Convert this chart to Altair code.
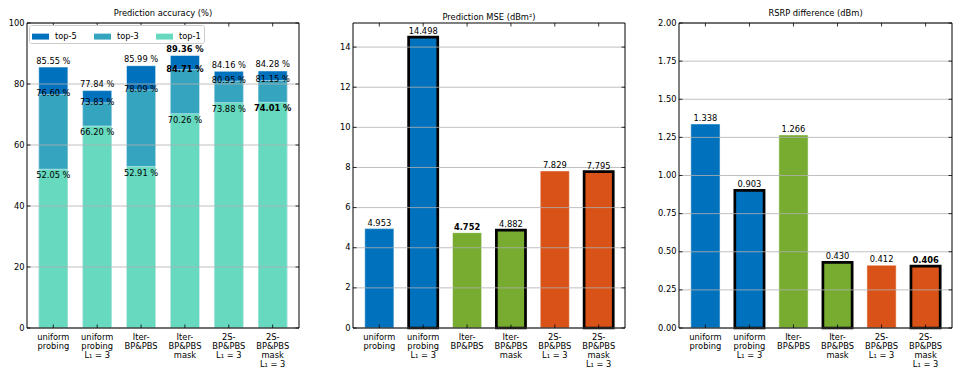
import altair as alt
import pandas as pd

# ---------------- data ----------------
methods = [
    "uniform\nprobing",
    "uniform\nprobing\nL₁ = 3",
    "Iter-\nBP&PBS",
    "Iter-\nBP&PBS\nmask",
    "2S-\nBP&PBS\nL₁ = 3",
    "2S-\nBP&PBS\nmask\nL₁ = 3",
]
top5 = [85.55, 77.84, 85.99, 89.36, 84.16, 84.28]
top3 = [76.60, 73.83, 78.09, 84.71, 80.95, 81.15]
top1 = [52.05, 66.20, 52.91, 70.26, 73.88, 74.01]
acc_kinds = ["top-5", "top-3", "top-1"]
acc_colors = ["#0072BD", "#35A4BF", "#66D9BF"]
acc_bold = [("top-5", 3), ("top-3", 3), ("top-1", 5)]
acc_ticks = [0, 20, 40, 60, 80, 100]

mse = [4.953, 14.498, 4.752, 4.882, 7.829, 7.795]
mse_bold = 2
mse_ticks = [0, 2, 4, 6, 8, 10, 12, 14]
rsrp = [1.338, 0.903, 1.266, 0.430, 0.412, 0.406]
rsrp_bold = 5
rsrp_ticks = [0, 0.25, 0.5, 0.75, 1.0, 1.25, 1.5, 1.75, 2.0]

groups = ["uniform", "uniform", "iter", "iter", "2s", "2s"]
group_domain = ["uniform", "iter", "2s"]
group_colors = ["#0072BD", "#77AC30", "#D95319"]
outlined = [False, True, False, True, False, True]

FONT = "DejaVu Sans"
FS = 8.3
H = 305
TICK = 3.5


def xenc():
    return alt.X(
        "method:N",
        sort=methods,
        scale=alt.Scale(domain=methods, paddingInner=0.336, paddingOuter=0.268),
        axis=alt.Axis(
            title=None, labelAngle=0, labelExpr="split(datum.label, '\\n')",
            ticks=False, domain=False, grid=False, labelFontSize=FS,
            labelPadding=4, labelLineHeight=9, labelBaseline="top",
            labelColor="black", labelOverlap=False,
        ),
    )


def make_yenc(domain, values, fmt):
    def yenc():
        return alt.Y(
            "value:Q", stack=None,
            scale=alt.Scale(domain=domain, nice=False, zero=True),
            axis=alt.Axis(
                title=None, values=values, format=fmt, grid=False,
                ticks=False, domain=False, labelOverlap=False,
                labelFontSize=FS, labelPadding=3, labelColor="black",
            ),
        )
    return yenc


def gridlines(tick_values, yenc):
    tdf = pd.DataFrame({"value": tick_values})
    return alt.Chart(tdf).mark_rule(color="#b0b0b0", strokeWidth=0.8).encode(y=yenc())


def decorations(W, tick_values, yenc):
    tdf = pd.DataFrame({"value": tick_values})
    mdf = pd.DataFrame({"method": methods})
    lt = alt.Chart(tdf).mark_rule(color="black", strokeWidth=0.8).encode(
        y=yenc(), x=alt.value(0), x2=alt.value(TICK))
    rt = alt.Chart(tdf).mark_rule(color="black", strokeWidth=0.8).encode(
        y=yenc(), x=alt.value(W - TICK), x2=alt.value(W))
    bt = alt.Chart(mdf).mark_rule(color="black", strokeWidth=0.8).encode(
        x=xenc(), y=alt.value(H), y2=alt.value(H - TICK))
    tt = alt.Chart(mdf).mark_rule(color="black", strokeWidth=0.8).encode(
        x=xenc(), y=alt.value(0), y2=alt.value(TICK))
    frame = alt.Chart(pd.DataFrame({"a": [0]})).mark_rect(
        fillOpacity=0, stroke="black", strokeWidth=1).encode(
        x=alt.value(0), x2=alt.value(W), y=alt.value(0), y2=alt.value(H))
    return [lt, rt, bt, tt, frame]


# ---------------- panel 1 ----------------
rows = []
for ordk, (kind, vals) in enumerate(zip(acc_kinds, [top5, top3, top1])):
    for i, m in enumerate(methods):
        rows.append(dict(method=m, kind=kind, value=vals[i], ord=ordk,
                         label=f"{vals[i]:.2f} %", bold=(kind, i) in acc_bold))
acc = pd.DataFrame(rows)
W1 = 272
y1 = make_yenc([0, 100], acc_ticks, "d")

bars1 = alt.Chart(acc).mark_bar(stroke="white", strokeWidth=0.5).encode(
    x=xenc(), y=y1(),
    color=alt.Color("kind:N", scale=alt.Scale(domain=acc_kinds, range=acc_colors),
                    legend=alt.Legend(
                        orient="none", legendX=2, legendY=2, direction="horizontal",
                        title=None, symbolType="M-1,-0.35H1V0.35H-1Z", symbolSize=289,
                        symbolStrokeWidth=0, symbolOpacity=1, labelFontSize=FS,
                        labelOffset=6, columnPadding=17, padding=3,
                        strokeColor="#cccccc", fillColor="white", cornerRadius=2,
                        labelColor="black")),
    order=alt.Order("ord:Q"),
)

text_layers1 = []
for kind, base, dy in [("top-5", "bottom", -1.5), ("top-3", "middle", 0), ("top-1", "top", 2)]:
    for b in [False, True]:
        sub = acc[(acc["kind"] == kind) & (acc["bold"] == b)]
        if len(sub) == 0:
            continue
        text_layers1.append(
            alt.Chart(sub).mark_text(baseline=base, dy=dy, fontSize=FS, color="black",
                                     fontWeight="bold" if b else "normal").encode(
                x=xenc(), y=y1(), text="label:N"))

p1 = alt.layer(bars1, gridlines(acc_ticks, y1), *text_layers1,
               *decorations(W1, acc_ticks, y1)).properties(
    width=W1, height=H, title="Prediction accuracy (%)")


# ---------------- panels 2 & 3 ----------------
def simple_panel(vals, bold_idx, fmt, domain, ticks, tfmt, W, title):
    df = pd.DataFrame(dict(method=methods, value=vals, group=groups, outlined=outlined,
                           label=[format(v, fmt) for v in vals],
                           bold=[i == bold_idx for i in range(len(vals))]))
    yy = make_yenc(domain, ticks, tfmt)
    bars = alt.Chart(df).mark_bar().encode(
        x=xenc(), y=yy(),
        color=alt.Color("group:N", scale=alt.Scale(domain=group_domain, range=group_colors),
                        legend=None),
        stroke=alt.condition("datum.outlined", alt.value("black"), alt.value("white")),
        strokeWidth=alt.condition("datum.outlined", alt.value(2.7), alt.value(0.5)),
    )
    tn = alt.Chart(df[~df["bold"]]).mark_text(baseline="bottom", dy=-1, fontSize=FS,
                                              color="black").encode(
        x=xenc(), y=yy(), text="label:N")
    tb = alt.Chart(df[df["bold"]]).mark_text(baseline="bottom", dy=-1, fontSize=FS,
                                             color="black", fontWeight="bold").encode(
        x=xenc(), y=yy(), text="label:N")
    return alt.layer(bars, gridlines(ticks, yy), tn, tb, *decorations(W, ticks, yy)).properties(
        width=W, height=H, title=title)


p2 = simple_panel(mse, mse_bold, ".3f", [0, 15.2], mse_ticks, "d",
                  272, "Prediction MSE (dBm²)")
p3 = simple_panel(rsrp, rsrp_bold, ".3f", [0, 2], rsrp_ticks,
                  ".2f", 273, "RSRP difference (dBm)")

chart = alt.hconcat(p1, p2, p3, spacing=54, bounds="flush").resolve_scale(
    color="independent"
).properties(
    padding={"left": 0, "top": 0, "right": 0, "bottom": 0}
).configure(font=FONT).configure_view(strokeWidth=0).configure_title(
    fontSize=FS, fontWeight="normal", font=FONT, offset=1, color="black"
).configure_legend(labelFont=FONT)

chart.save("out.html", embed_options={"renderer": "svg", "actions": False})
